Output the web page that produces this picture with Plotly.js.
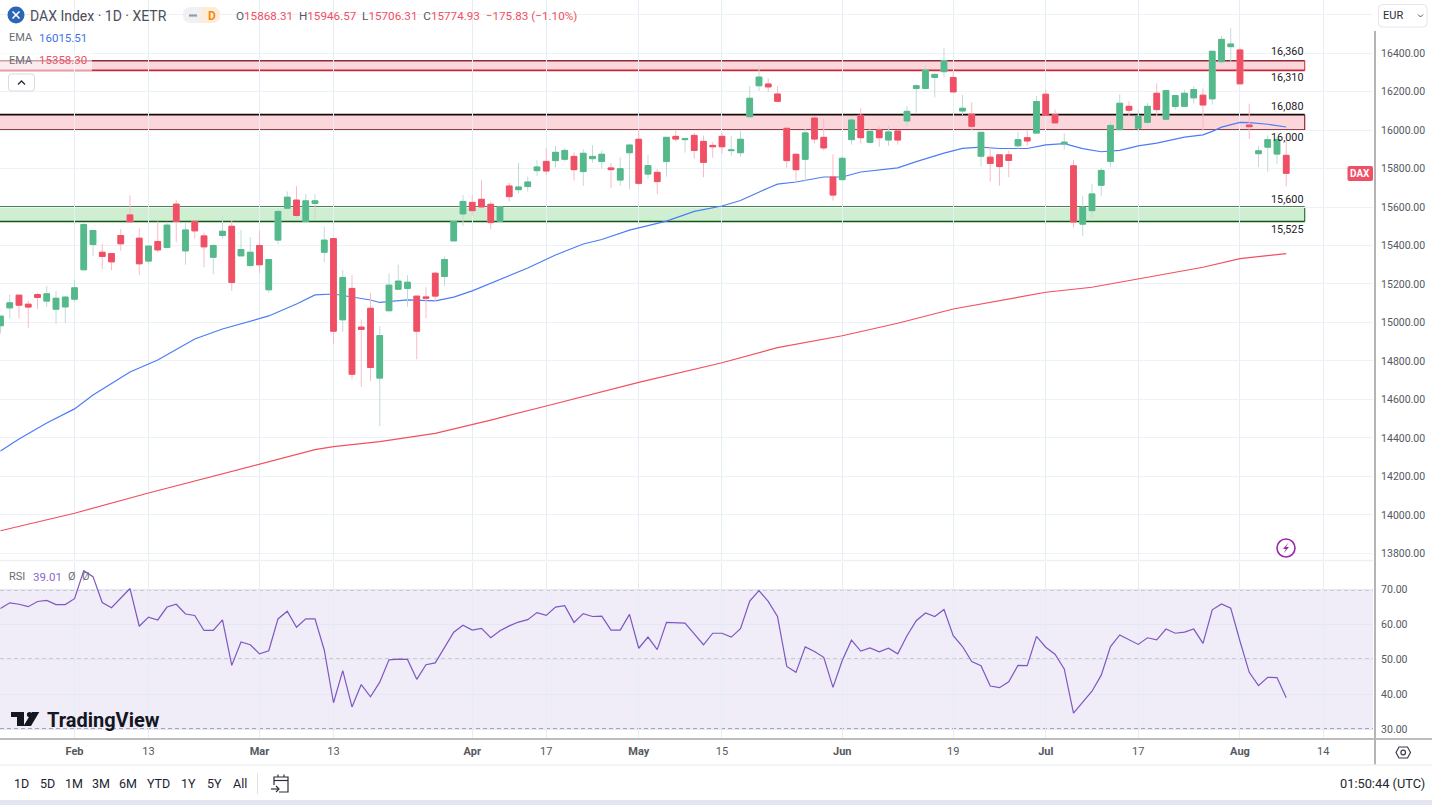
<!DOCTYPE html>
<html><head><meta charset="utf-8">
<script src="https://cdn.plot.ly/plotly-3.0.1.min.js"></script>
<style>html,body{margin:0;padding:0;background:#fff;overflow:hidden}#c{width:1432px;height:805px}</style>
</head><body><div id="c"></div>
<script>
// Trading-day index of the first visible candle (0 = 1 Feb)
const firstIndex = -8;
const openVals = [14983,15076,15142,15095,15145,15111,15069,15081,15121,15274,15405,15365,15358,15452,15559,15438,15319,15421,15390,15615,15372,15525,15450,15339,15452,15500,15346,15296,15400,15170,15428,15594,15636,15525,15618,15365,15436,15014,15177,14976,15074,14711,15061,15173,15177,15137,15133,15256,15239,15424,15564,15624,15640,15614,15527,15709,15690,15706,15789,15837,15841,15848,15863,15784,15851,15836,15803,15740,15882,15952,15771,15780,15836,15967,15950,15972,15941,15920,15967,15893,15882,16069,16230,16239,16187,16009,15874,15848,16062,15962,15756,15742,15950,16076,15936,16000,15948,15995,16047,16216,16216,16273,16303,16273,16099,16082,15864,15859,15871,15871,15918,15960,15984,16186,16080,15927,15814,15511,15581,15713,15837,16002,16123,16009,16040,16191,16056,16122,16123,16167,16181,16162,16355,16433,16416,16026,15877,15911,15875,15868.31];
const highVals = [15033,15145,15145,15114,15154,15189,15163,15137,15223,15520,15478,15407,15358,15485,15661,15490,15397,15525,15523,15636,15516,15525,15467,15407,15552,15532,15481,15443,15478,15327,15589,15681,15708,15667,15667,15497,15436,15272,15246,15016,15152,14981,15255,15300,15246,15137,15183,15263,15343,15535,15662,15662,15740,15628,15600,15726,15829,15758,15844,15905,15917,15905,15884,15900,15922,15893,15827,15858,15922,16007,15870,15797,15962,15997,15955,15986,15971,15938,15986,15971,15995,16229,16334,16268,16227,16009,15874,16005,16073,16059,15874,15865,16073,16114,16009,16017,16021,15995,16123,16237,16337,16294,16426,16303,16183,16144,15988,15915,15871,15894,15991,15998,16176,16210,16106,15981,15845,15659,15720,15803,16043,16186,16150,16103,16141,16243,16205,16179,16209,16228,16216,16409,16490,16529,16429,16137,15918,15972,15960,15946.57];
const lowVals = [14943,15022,15022,14972,15069,15081,14993,14996,15107,15270,15346,15277,15272,15372,15523,15246,15306,15365,15390,15417,15300,15436,15287,15251,15436,15164,15345,15289,15255,15154,15407,15587,15544,15525,15539,15315,14887,14951,14704,14666,14695,14461,15061,15168,15081,14809,15022,15107,15190,15424,15503,15555,15600,15484,15515,15628,15671,15680,15763,15766,15804,15836,15737,15709,15830,15799,15697,15709,15692,15714,15747,15666,15758,15939,15882,15851,15754,15856,15877,15863,15861,16069,16203,16197,16145,15803,15728,15732,15931,15893,15633,15742,15924,15929,15931,15913,15917,15924,16019,16089,16216,16169,16276,16198,16076,15998,15810,15732,15711,15755,15903,15918,15981,16077,16033,15897,15494,15450,15541,15659,15807,15998,16071,15990,16030,16071,16056,16106,16123,16137,15998,16132,16337,16355,16240,15953,15807,15783,15824,15706.31];
const closeVals = [15033,15102,15090,15080,15130,15149,15126,15132,15180,15509,15478,15343,15315,15409,15523,15305,15397,15377,15506,15525,15481,15476,15393,15400,15474,15208,15379,15365,15300,15327,15577,15651,15556,15632,15632,15428,14955,15234,14731,14964,14766,14932,15194,15215,15209,14955,15126,15137,15327,15525,15629,15581,15600,15519,15600,15654,15704,15730,15808,15787,15884,15894,15794,15879,15863,15874,15794,15799,15922,15723,15815,15732,15962,15953,15955,15894,15832,15913,15913,15896,15952,16165,16275,16224,16149,15841,15794,15985,15953,15907,15662,15853,16052,15960,15993,15960,15990,15948,16097,16230,16311,16289,16360,16198,16113,16019,15988,15826,15810,15842,15950,15943,16148,16077,16037,15937,15522,15598,15668,15790,16024,16139,16103,16071,16123,16106,16205,16179,16191,16210,16130,16409,16471,16447,16240,16017,15892,15950,15951,15774.93];

// EMA lines: values read at these trading-day indexes
const emaFastIdx = [-8,-6,-3,0,2,6,9,13,16,21,24,26,28,30,32,33,36,39,41,43,44,46,49,52,55,57,60,64,67,70,72,75,76,78,81,83,85,89,91,94,96,98,100,103,105,107,109,111,113,115,117,120,122,123,124,126,127,129,131];
const emaFastVals = [14332,14395,14478,14551,14623,14743,14805,14914,14966,15034,15096,15143,15148,15132,15117,15104,15117,15112,15132,15164,15184,15226,15283,15351,15408,15431,15480,15527,15577,15605,15634,15699,15719,15730,15756,15756,15782,15803,15836,15880,15905,15911,15904,15904,15923,15929,15903,15887,15894,15918,15932,15963,15975,15993,16015,16040,16038,16030,16015.51];
const emaSlowIdx = [-8,0,8,16,20,26,28,33,39,44,45,51,61,70,76,83,89,95,100,105,110,115,122,126,131];
const emaSlowVals = [13918,14009,14114,14215,14265,14339,14355,14381,14424,14479,14493,14566,14689,14791,14869,14931,14996,15070,15112,15157,15183,15226,15287,15332,15358.30];

const rsiVals = [64.6,66.2,65.8,65.1,66.6,66.9,65.7,65.7,67.4,75.4,73.7,66.3,64.8,67.5,70.3,59.5,62.1,61.3,65.0,65.8,63.0,62.6,58.3,58.3,61.3,48.3,55.0,54.2,51.6,52.5,61.6,63.8,59.2,61.6,61.6,52.7,37.6,46.8,36.4,42.8,39.3,43.5,49.9,50.1,50.0,44.3,48.5,49.0,53.4,57.8,59.8,58.4,58.9,56.2,58.2,59.6,60.7,61.4,63.4,62.6,65.0,65.4,60.6,63.1,62.3,62.4,58.4,58.4,62.9,53.2,56.4,52.8,60.6,60.4,60.4,57.3,54.2,57.5,57.5,56.4,58.8,66.7,69.7,66.6,62.3,48.0,46.3,53.6,52.3,50.6,42.0,49.7,55.5,52.4,53.3,52.2,53.2,51.6,56.8,61.1,63.3,62.3,64.3,56.8,53.7,49.4,48.2,42.4,41.9,43.6,48.3,48.2,56.6,53.5,51.5,47.3,34.6,37.8,40.9,45.5,53.7,57.0,55.7,54.3,56.2,55.6,58.7,57.5,57.8,58.7,54.6,64.2,65.9,64.7,55.2,46.3,42.5,44.9,44.8,39.01];

// Price zones [low, high]
const resistanceZones = [[16310,16360],[16000,16080]];
const supportZones = [[15525,15600]];
const zoneLabels = ['16,360','16,310','16,080','16,000','15,600','15,525'];
const zoneLabelY = [52,77,107,137,199,229];

const xTickIdx = [0,8,20,28,43,51,61,70,83,95,105,115,126,135];
const xTickText = ['<b>Feb</b>','13','<b>Mar</b>','13','<b>Apr</b>','17','<b>May</b>','15','<b>Jun</b>','19','<b>Jul</b>','17','<b>Aug</b>','14'];
const priceTicks = [13800,14000,14200,14400,14600,14800,15000,15200,15400,15600,15800,16000,16200,16400,16600];
const rsiTicks = [30,40,50,60,70];
const rangeButtons = ['1D','5D','1M','3M','6M','YTD','1Y','5Y','All'];
const rangeButtonX = [21,47,74,101,128,158.5,188,214,240];

const W = 1432, H = 805;
const fx = p => p / W, fy = p => 1 - p / H;
const FONT = 'Roboto, "Liberation Sans", sans-serif';
const idx = openVals.map((_, k) => k + firstIndex);
const bodyHi = openVals.map((o, k) => Math.max(o, closeVals[k]));
const bodyLo = openVals.map((o, k) => Math.min(o, closeVals[k]));

const RED = '#ef5065', GREEN = '#54b98b';
const xRange = [-8.054, 140.38];
const priceRange = [13766, 16675.5];

const traces = [
  {type:'scatter',mode:'lines',x:emaSlowIdx,y:emaSlowVals,xaxis:'x',yaxis:'y',line:{color:'#f2505f',width:1.2},hoverinfo:'skip'},
  {type:'scatter',mode:'lines',x:emaFastIdx,y:emaFastVals,xaxis:'x',yaxis:'y',line:{color:'#4c7df5',width:1.2},hoverinfo:'skip'},
  {type:'candlestick',x:idx,open:openVals,high:highVals,low:lowVals,close:closeVals,xaxis:'x',yaxis:'y3',whiskerwidth:0,
   increasing:{line:{color:'#c0dcd9',width:1},fillcolor:GREEN},decreasing:{line:{color:'#f9bcc5',width:1},fillcolor:RED},hoverinfo:'skip'},
  {type:'candlestick',x:idx,open:openVals,high:bodyHi,low:bodyLo,close:closeVals,xaxis:'x',yaxis:'y3',whiskerwidth:0,
   increasing:{line:{color:GREEN,width:1},fillcolor:GREEN},decreasing:{line:{color:RED,width:1},fillcolor:RED},hoverinfo:'skip'},
  {type:'scatter',mode:'lines',x:idx,y:rsiVals,xaxis:'x',yaxis:'y2',line:{color:'#7e57c2',width:1.2},hoverinfo:'skip'}
];

const shapes = [];
function zone(z, topCol, botCol, fill) {
  shapes.push({type:'rect',layer:'below',xref:'x',yref:'y',x0:xRange[0],x1:133,y0:z[0],y1:z[1],fillcolor:fill,line:{width:0}});
  shapes.push({type:'line',layer:'below',xref:'x',yref:'y',x0:xRange[0],x1:133,y0:z[1],y1:z[1],line:{color:topCol,width:1.6}});
  shapes.push({type:'line',layer:'below',xref:'x',yref:'y',x0:xRange[0],x1:133,y0:z[0],y1:z[0],line:{color:botCol,width:1.6}});
  shapes.push({type:'line',layer:'below',xref:'x',yref:'y',x0:133,x1:133,y0:z[0],y1:z[1],line:{color:botCol,width:1}});
}
zone(resistanceZones[0],'#8e2a36','#c8283a','#fbd6db');
zone(resistanceZones[1],'#1a0a0a','#6e0d18','#fbd6db');
zone(supportZones[0],'#0e5a12','#0e5a12','#d0eed2');

shapes.push({type:'rect',layer:'below',xref:'paper',yref:'y2',x0:0,x1:1373/W,y0:30,y1:70,fillcolor:'rgba(126,87,194,0.115)',line:{width:0}});
[30,50,70].forEach(v => shapes.push({type:'line',layer:'below',xref:'paper',yref:'y2',x0:0,x1:1373/W,y0:v,y1:v,line:{color:'#5f5f66',width:1.3,dash:'4px,3px'}}));

function pxLine(x0,y0,x1,y1,color,width){ shapes.push({type:'line',xref:'paper',yref:'paper',x0:fx(x0),x1:fx(x1),y0:fy(y0),y1:fy(y1),line:{color,width}}); }
function pxPath(pts,opt){
  const d = pts.map((p,k)=> (typeof p==='string'? p : (k&&typeof pts[k-1]!=='string'?'L':'') + fx(p[0])+','+fy(p[1]))).join(' ');
  shapes.push(Object.assign({type:'path',xref:'paper',yref:'paper',path:d,line:{width:0}},opt));
}
function roundRect(x0,y0,x1,y1,r,opt){
  const P=(x,y)=>fx(x)+','+fy(y);
  const d='M'+P(x0+r,y0)+' L'+P(x1-r,y0)+' Q'+P(x1,y0)+' '+P(x1,y0+r)+' L'+P(x1,y1-r)+' Q'+P(x1,y1)+' '+P(x1-r,y1)+' L'+P(x0+r,y1)+' Q'+P(x0,y1)+' '+P(x0,y1-r)+' L'+P(x0,y0+r)+' Q'+P(x0,y0)+' '+P(x0+r,y0)+' Z';
  shapes.push(Object.assign({type:'path',xref:'paper',yref:'paper',path:d},opt));
}
function circle(cx,cy,r,opt){ shapes.push(Object.assign({type:'circle',xref:'paper',yref:'paper',x0:fx(cx-r),x1:fx(cx+r),y0:fy(cy+r),y1:fy(cy-r)},opt)); }

// chart frame
pxLine(0,560.5,1373,560.5,'#eef0f4',1.5);
pxLine(0,739,W,739,'#bdbdbd',2);
pxLine(1375,31,1375,765,'#b4b4b4',2);
pxLine(0,765,W,765,'#eef0f3',1.5);
shapes.push({type:'rect',xref:'paper',yref:'paper',x0:0,x1:1,y0:0,y1:1-800/H,fillcolor:'#e3e5ef',line:{width:0}});
// header icons
circle(16,15,8.5,{fillcolor:'#2b65b5',line:{width:0}});
pxLine(12.5,11.5,19.5,18.5,'#ffffff',1.6); pxLine(19.5,11.5,12.5,18.5,'#ffffff',1.6);
roundRect(183,7,220,23,8,{fillcolor:'#f0f1f4',line:{width:0}});
pxPath(['M',[201,7],[214,7],[220,11],[220,19],[214,23],[201,23],'Z'],{fillcolor:'#ffecd6'});
pxLine(189,15.5,197,15.5,'#9a9ca3',2.2);
// EMA label background
shapes.push({type:'rect',xref:'paper',yref:'paper',x0:0,x1:fx(92),y0:fy(71),y1:fy(52),fillcolor:'rgba(255,255,255,0.55)',line:{width:0}});
roundRect(8.5,74,34.5,91,3,{fillcolor:'#ffffff',line:{color:'#d9dbe2',width:1}});
pxPath(['M',[18,84.5],[21.5,81],[25,84.5]],{line:{color:'#2a2e39',width:1.3}});
// currency box
roundRect(1378.5,4.5,1427,27,4,{fillcolor:'#ffffff',line:{color:'#e4e6ec',width:1}});
pxPath(['M',[1418,14.5],[1420.5,17],[1423,14.5]],{line:{color:'#555',width:1}});
// price tag
roundRect(1347.5,166,1373,181,2,{fillcolor:RED,line:{width:0}});
// lightning icon
circle(1286,548,9,{fillcolor:'#ffffff',line:{color:'#9c27b0',width:1.6}});
pxPath(['M',[1288.5,542.5],[1283,549],[1286,549],[1283.5,553.5],[1289,547],[1286,547],'Z'],{fillcolor:'#9c27b0'});
// TradingView logo
pxPath(['M',[11,712],[24,712],[24,726],[17,726],[17,717],[11,717],'Z'],{fillcolor:'#131722'});
circle(29.5,714.5,2.6,{fillcolor:'#131722',line:{width:0}});
pxPath(['M',[32,712],[39.3,712],[31,726],[23.5,726],'Z'],{fillcolor:'#131722'});
// settings icon
pxPath(['M',[1399,747],[1407.5,747],[1410.5,752.5],[1407.5,758],[1399,758],[1396,752.5],'Z'],{line:{color:'#3a3e48',width:1.2},fillcolor:'rgba(0,0,0,0)'});
circle(1403.2,752.5,2.3,{line:{color:'#3a3e48',width:1.2},fillcolor:'#ffffff'});
// range separator + calendar icon
pxLine(257.5,773,257.5,794,'#e0e3eb',1);
pxPath(['M',[274,785],[274,777],[288,777],[288,792],[279,792]],{line:{color:'#2a2e39',width:1.2}});
pxLine(274,780.5,288,780.5,'#2a2e39',1.2);
pxLine(278,774.5,278,777,'#2a2e39',1.2); pxLine(284,774.5,284,777,'#2a2e39',1.2);
pxPath(['M',[271,789],[279,789]],{line:{color:'#2a2e39',width:1.2}});
pxPath(['M',[276,786],[279,789],[276,792]],{line:{color:'#2a2e39',width:1.2}});

const ann = [];
function label(x,y,text,size,color,anchor,extra){
  ann.push(Object.assign({xref:'paper',yref:'paper',x:fx(x),y:fy(y),text,showarrow:false,xanchor:anchor||'left',yanchor:'middle',
    font:{family:FONT,size,color},borderpad:0,bgcolor:'rgba(0,0,0,0)'},extra||{}));
}
const red = s => '<span style="color:'+RED+'">'+s+'</span>';
label(29,15.5,'DAX Index · 1D · XETR',14,'#4a4e58');
label(206.5,15.5,'<b>D</b>',12,'#f28a18');
label(235,16,'O'+red(openVals[139].toFixed(2))+'  H'+red(highVals[139].toFixed(2))+'  L'+red(lowVals[139].toFixed(2))+'  C'+red(closeVals[139].toFixed(2))+'  '+red('−175.83 (−1.10%)'),11.7,'#55585f');
label(8,37.5,'EMA',11,'#6a6d75');
label(38,37.5,emaFastVals[emaFastVals.length-1].toFixed(2),11.5,'#3f72ee');
label(8,60,'EMA',11,'#6a6d75');
label(38,60,emaSlowVals[emaSlowVals.length-1].toFixed(2),11.5,'#ef5065');
label(1382,15.5,'EUR',11,'#2a2e39');
label(1360.3,173.5,'<b>DAX</b>',10,'#ffffff','center');
label(8,576.5,'RSI',11,'#6a6d75');
label(32,576.5,rsiVals[rsiVals.length-1].toFixed(2),11.5,'#8a66cf');
label(67,576.5,'Ø',11,'#6a6d75');
label(81,576.5,'Ø',11,'#6a6d75');
label(45.5,719.5,'<b>TradingView</b>',20,'#131722');
zoneLabels.forEach((t,k)=>label(1286.5,zoneLabelY[k],t,10.8,'#1d2028','center'));
rangeButtons.forEach((t,k)=>label(rangeButtonX[k],783,t,12.5,'#1d2330','center'));
label(1426,783.5,'01:50:44 (UTC)',12.8,'#23262e','right');

const GRID = '#edf2f7';
const layout = {
  width:W,height:H,autosize:false,margin:{l:0,r:0,t:0,b:0,pad:0},paper_bgcolor:'#ffffff',plot_bgcolor:'#ffffff',
  showlegend:false,boxmode:'overlay',boxgap:0.12,hovermode:false,dragmode:false,
  xaxis:{domain:[0,1373/W],range:xRange,anchor:'y2',tickmode:'array',tickvals:xTickIdx,ticktext:xTickText,ticks:'outside',ticklen:3,tickcolor:'rgba(0,0,0,0)',
    tickfont:{family:FONT,size:11,color:'#55585f'},showgrid:true,gridcolor:'#e6eef5',gridwidth:1,zeroline:false,showline:false,fixedrange:true,rangeslider:{visible:false}},
  yaxis:{domain:[1-560/H,1],range:priceRange,anchor:'x',side:'right',tickmode:'array',tickvals:priceTicks,
    ticktext:priceTicks.map(v=>v===16600?'':v.toFixed(2)),ticks:'outside',ticklen:5,tickcolor:'rgba(0,0,0,0)',
    tickfont:{family:FONT,size:10.5,color:'#55585f'},showgrid:true,gridcolor:GRID,gridwidth:1,zeroline:false,showline:false,fixedrange:true},
  yaxis3:{domain:[1-560/H,1],range:priceRange,overlaying:'y',anchor:'x',side:'right',visible:false,showgrid:false,fixedrange:true},
  yaxis2:{domain:[1-738/H,1-562/H],range:[27.5,77.9],anchor:'x',side:'right',tickmode:'array',tickvals:rsiTicks,ticktext:rsiTicks.map(v=>v.toFixed(2)),
    ticks:'outside',ticklen:5,tickcolor:'rgba(0,0,0,0)',tickfont:{family:FONT,size:10.5,color:'#55585f'},showgrid:true,gridcolor:'#e3e8f3',gridwidth:1,zeroline:false,showline:false,fixedrange:true},
  shapes:shapes,annotations:ann
};
Plotly.newPlot('c',traces,layout,{displayModeBar:false,staticPlot:true,responsive:false});
</script></body></html>
